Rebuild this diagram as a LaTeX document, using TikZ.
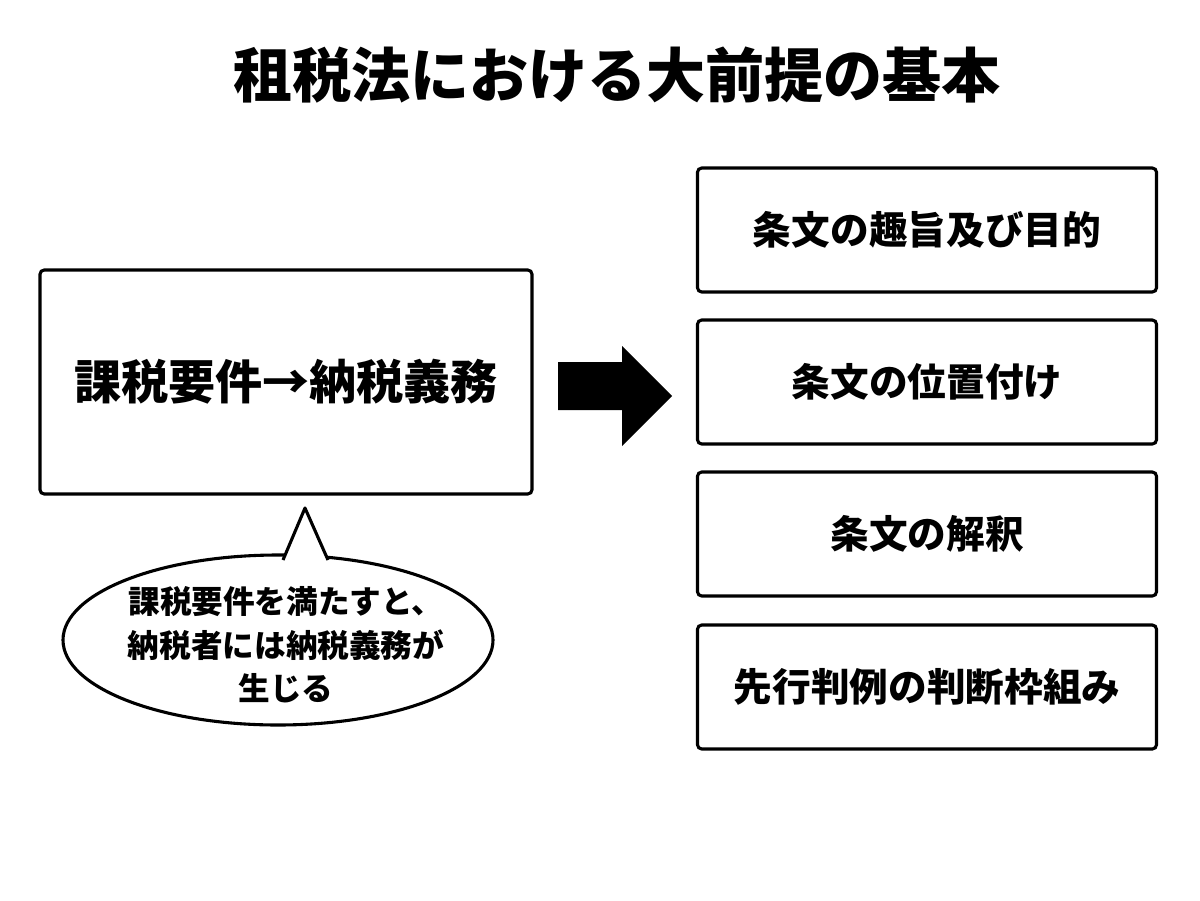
\documentclass[tikz,border=0pt]{standalone}
\usepackage{fontspec}
\setmainfont{Noto Sans CJK JP}
\usetikzlibrary{shapes.geometric}
\tikzset{
  box/.style={draw=black, line width=2.2pt, rounded corners=3pt, fill=white},
  pt/.style={font=\fontsize{27.5}{32}\selectfont\bfseries},
}
\begin{document}
\begin{tikzpicture}[x=0.025cm, y=-0.025cm]
  \useasboundingbox (0,0) rectangle (1200,900);
  \node (title) at (617,75) {\fontsize{42}{46}\selectfont\bfseries 租税法における大前提の基本};
  % left side
  \node[box, minimum width=492*0.025cm, minimum height=224*0.025cm,
        font=\fontsize{33.5}{38}\selectfont\bfseries] (req) at (286,382) {課税要件→納税義務};
  \node[draw=black, line width=2.2pt, ellipse, fill=white,
        minimum width=430*0.025cm, minimum height=170*0.025cm] (bubble) at (278,640) {};
  \coordinate (tip) at (305,508);
  \coordinate (tl) at (283,560);
  \coordinate (tr) at (328,560);
  \fill[white] (tl) -- (tip) -- (tr) -- ([yshift=-8]tr) -- ([yshift=-8]tl) -- cycle;
  \draw[line width=2.2pt, line join=round] (tl) -- (tip) -- (tr);
  \node[align=center, font=\fontsize{22.5}{31}\selectfont\bfseries] (note) at (286,645)
    {課税要件を満たすと、\\納税者には納税義務が\\生じる};
  % arrow
  \fill (558,362) -- (622,362) -- (622,346) -- (672,396) -- (622,446) -- (622,410) -- (558,410) -- cycle;
  % right boxes
  \foreach \y/\name/\txt in {230/aim/条文の趣旨及び目的, 382/pos/条文の位置付け,
                              534/intp/条文の解釈, 687/prec/先行判例の判断枠組み}
    \node[box, pt, minimum width=459*0.025cm, minimum height=124*0.025cm] (\name) at (927,\y) {\txt};
\end{tikzpicture}
\end{document}
